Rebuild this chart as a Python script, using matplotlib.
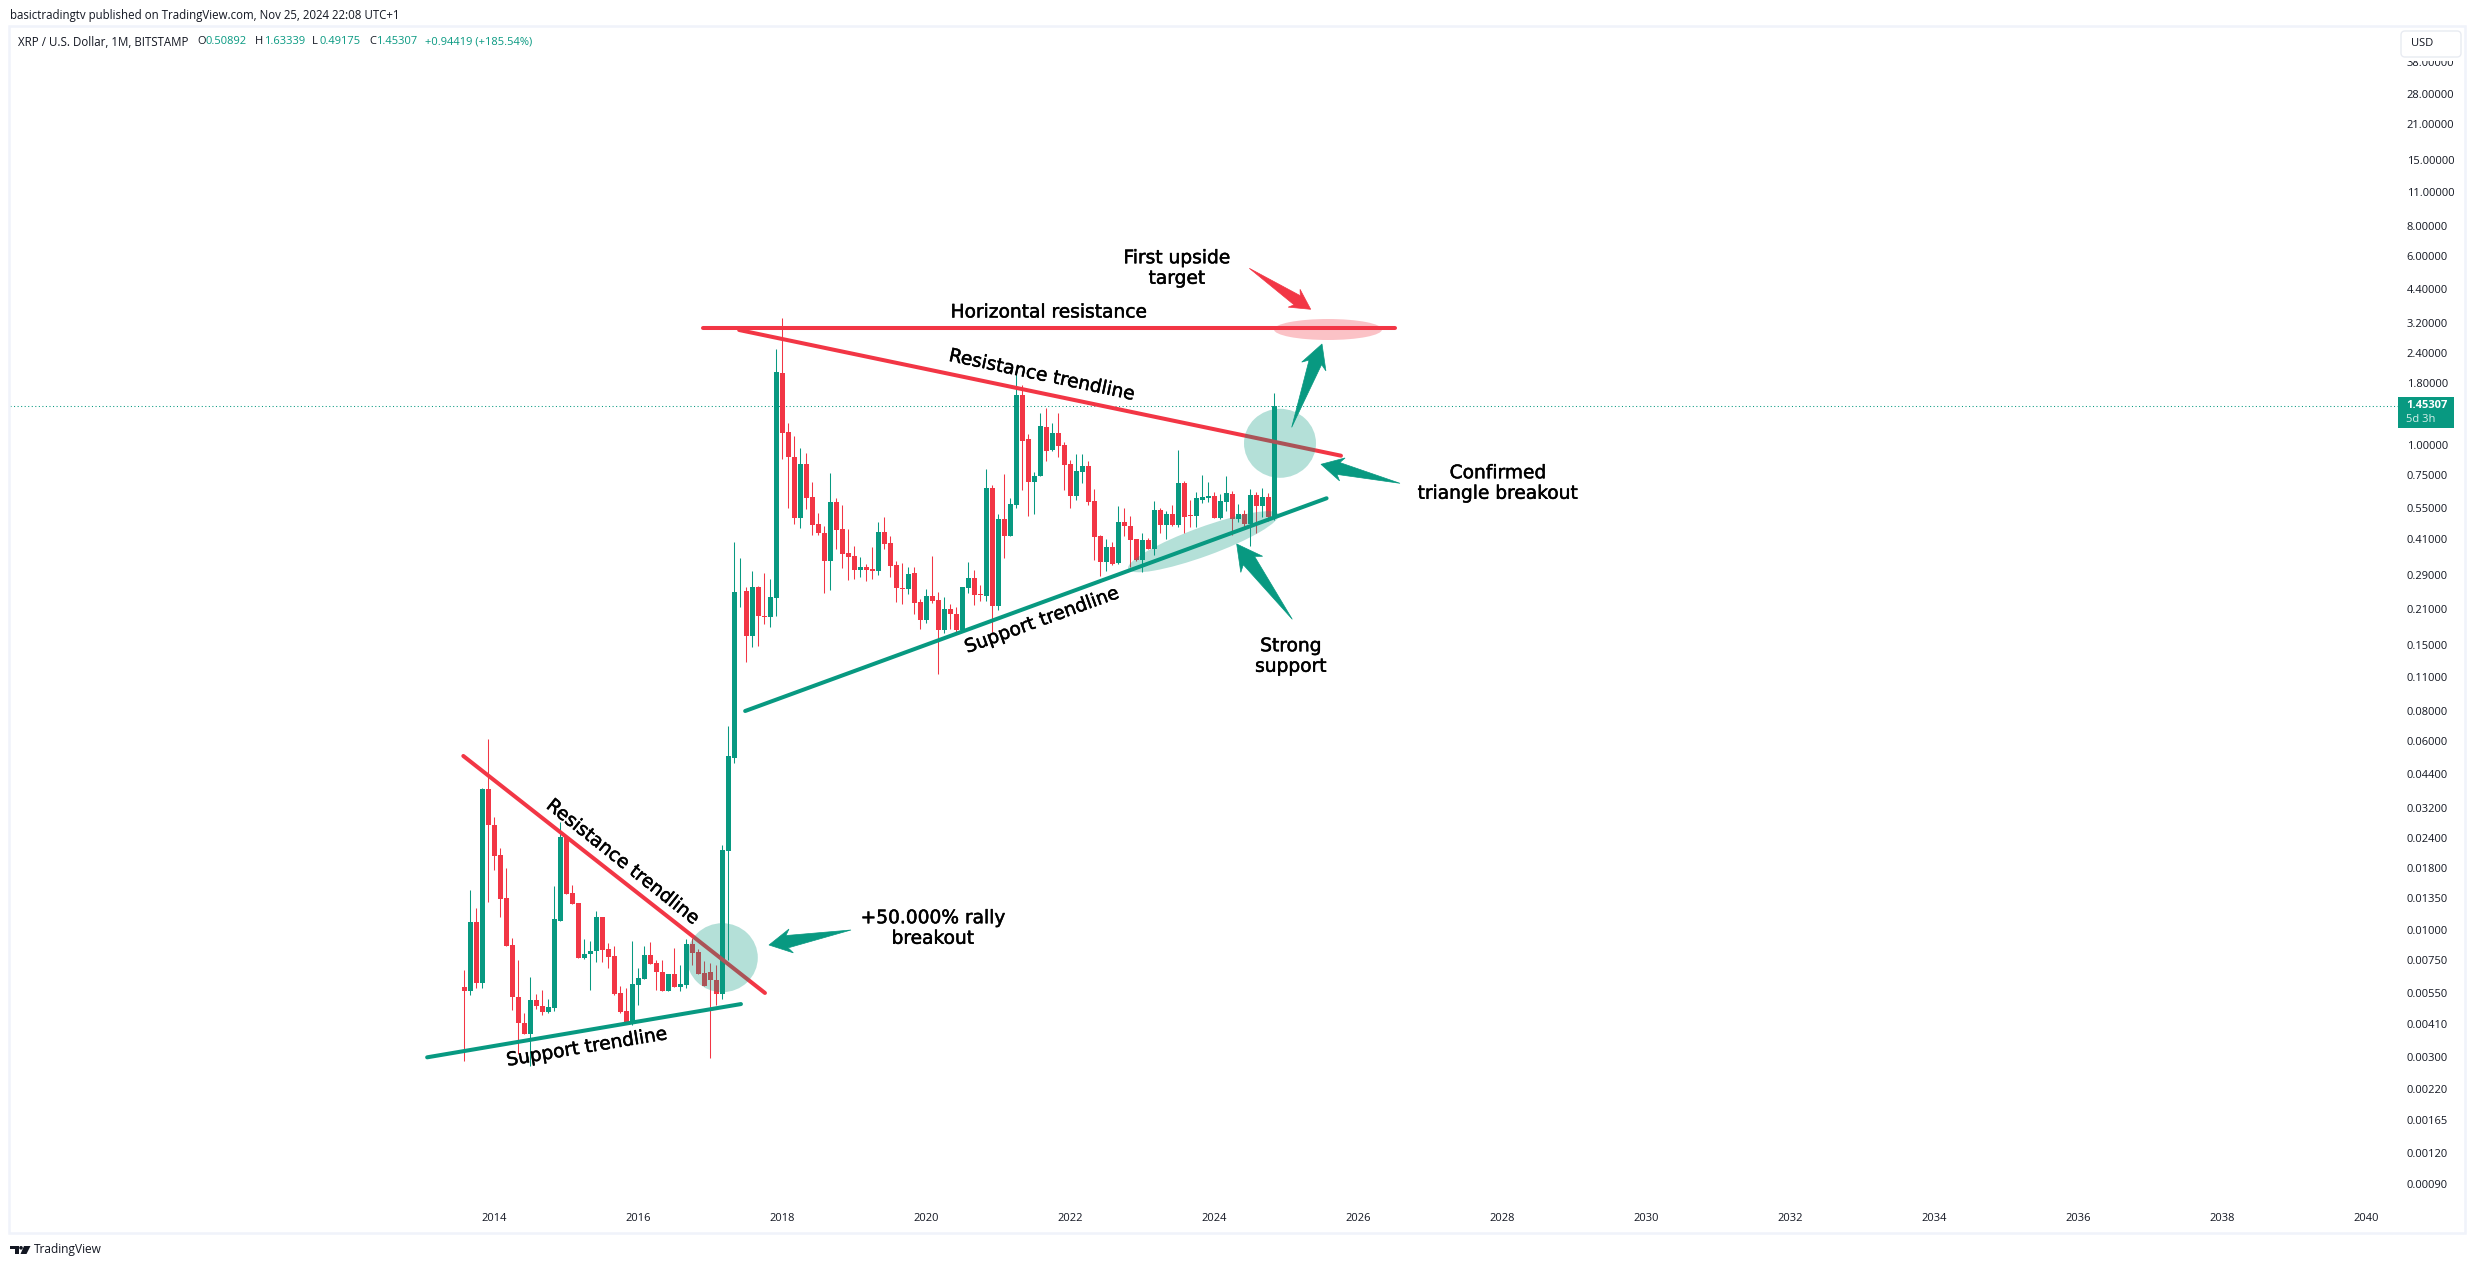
import numpy as np
import matplotlib
matplotlib.use("Agg")
import matplotlib.pyplot as plt
import matplotlib.patheffects as pe
from matplotlib.patches import Ellipse, Polygon, Rectangle, Circle, FancyBboxPatch

# monthly XRP candles, first one is Aug 2013
opens = [.00583, .00558, .0108, .00602, .0382, .0272, .0204, .0135, .00866, .0053,
         .00415, .00374, .00515, .00487, .00457, .00478, .0109, .0242, .01415, .0129,
         .0077, .00794, .00817, .01133, .00834, .0078, .0055, .00464, .00413, .00596,
         .0063, .0079, .0073, .00674, .0056, .00659, .00583, .00596, .00877, .00812,
         .00666, .00668, .00623, .00545, .0211, .0512, .2479, .249, .1623, .26,
         .1974, .1962, .235, 1.98, 1.131, .889, .5005, .8356, .6127, .4718,
         .434, .3329, .5826, .451, .3584, .3484, .3055, .3144, .3085, .3027,
         .4382, .3957, .3204, .2576, .255, .297, .2255, .1901, .2387, .2298,
         .1729, .211, .2013, .1729, .2576, .2832, .2425, .2387, .6654, .2171,
         .4957, .4195, .5662, 1.608, 1.056, .7042, .7455, 1.183, .9542, 1.12,
         1.0, .8353, .6165, .7741, .8196, .588, .4217, .3295, .38, .3255,
         .4817, .4636, .4099, .3359, .4061, .3728, .5398, .4682, .5197, .4682,
         .6975, .5152, .5116, .5936, .6049, .6165, .5002, .5823, .6283, .4955,
         .5197, .4727, .6224, .5607, .6107, .50892]
closes = [.00558, .0108, .00602, .03816, .0272, .02027, .01348, .00862, .00527, .00412,
          .00374, .00515, .00484, .00457, .0048, .0111, .0242, .01413, .01285, .0077,
          .00797, .00822, .01133, .00831, .00775, .00545, .00457, .00413, .006, .00635,
          .0079, .00726, .00668, .0056, .00659, .00583, .006, .00877, .00807, .00661,
          .00588, .00623, .00545, .02139, .052, .2479, .2487, .1638, .26, .1981,
          .1962, .2364, 2.0, 1.124, .8926, .5005, .8356, .605, .4682, .434,
          .3329, .5826, .4466, .3556, .3456, .3055, .3144, .3055, .3027, .4382,
          .391, .3172, .2576, .256, .294, .2234, .1901, .2387, .2269, .1729,
          .211, .2013, .1729, .26, .2832, .241, .241, .6654, .2171, .4957,
          .4195, .5715, 1.608, 1.039, .7042, .7455, 1.198, .945, 1.12, .9912,
          .8274, .6165, .7815, .8196, .5823, .4178, .3295, .38, .3233, .4817,
          .4636, .4061, .3359, .4061, .3728, .5398, .4682, .5197, .4682, .6975,
          .5051, .5116, .6049, .6107, .6165, .5002, .588, .6344, .4955, .5197,
          .4727, .6224, .5607, .6107, .5051, 1.45307]
highs = [.00685, .01463, .01229, .0385, .0613, .02916, .02173, .01797, .00925, .00753,
         .00454, .00639, .00545, .00566, .00519, .0152, .0279, .0245, .01534, .0129,
         .00919, .00905, .01199, .01133, .00886, .0086, .00588, .00579, .00902, .00696,
         .0086, .00889, .00753, .0075, .00659, .00843, .00716, .00919, .00925, .00838,
         .00746, .0073, .00718, .02243, .0694, .397, .3423, .2592, .3014, .2625,
         .296, .2805, 2.48, 3.34, 1.229, 1.09, .9695, .9245, .7042, .5268,
         .4638, .7672, .6032, .5662, .451, .3837, .3456, .3224, .38, .4817,
         .5052, .4219, .3329, .3264, .3144, .3144, .2318, .255, .3484, .2479,
         .2364, .2213, .215, .26, .3296, .3055, .2649, .7968, .6844, .5199,
         .7598, .605, 1.963, 1.768, 1.111, .7744, 1.356, 1.424, 1.233, 1.356,
         1.029, .8677, .9184, .9184, .8595, .659, .4258, .4099, .3984, .5607,
         .5513, .5116, .4099, .434, .4138, .588, .5513, .5347, .5661, .9539,
         .7106, .5936, .6403, .7525, .7039, .6403, .6283, .7454, .6465, .5714,
         .5398, .659, .6403, .6665, .6344, 1.63339]
lows = [.00287, .0054, .00579, .00579, .0131, .01769, .01136, .00862, .00468, .00309,
        .00374, .00274, .00474, .00448, .00454, .00464, .01085, .01413, .01285, .0077,
        .00757, .00566, .00739, .00739, .007, .00538, .00454, .00409, .00404, .00491,
        .0063, .00726, .00566, .00558, .0056, .00583, .00562, .00579, .00718, .00661,
        .00588, .00298, .00491, .00519, .0075, .0487, .215, .128, .1467, .149,
        .183, .1784, .1981, .8788, .5495, .4743, .4568, .5451, .4273, .4259,
        .2464, .2535, .374, .3114, .2787, .2805, .2859, .2743, .2805, .2912,
        .3729, .2859, .2255, .2213, .2433, .2013, .1746, .1848, .2234, .1139,
        .168, .1746, .1696, .1729, .2449, .2192, .2278, .2278, .1696, .209,
        .3423, .4195, .5512, .6528, .5101, .5199, .7455, .86, .945, .8929,
        .6526, .5513, .5936, .6996, .5661, .3359, .2885, .3025, .3203, .3233,
        .4217, .3142, .3336, .2997, .3728, .3521, .434, .4099, .4636, .4594,
        .434, .4594, .4594, .5768, .5823, .5002, .4955, .5347, .4258, .4817,
        .4594, .3836, .434, .5051, .4865, .49175]

price_ticks = [38, 28, 21, 15, 11, 8, 6, 4.4, 3.2, 2.4, 1.8, 1.0, .75, .55, .41, .29, .21, .15,
               .11, .08, .06, .044, .032, .024, .018, .0135, .01, .0075, .0055, .0041, .003,
               .0022, .00165, .0012, .0009]
year_ticks = [2014, 2016, 2018, 2020, 2022, 2024, 2026, 2028, 2030, 2032, 2034, 2036, 2038, 2040]
last_price = 1.45307

# trendlines as (month index, price) pairs
res_low_x, res_low_y = [-0.17, 50.1], [.0522, .0055]
sup_low_x, sup_low_y = [-6.2, 46.1], [.002985, .00495]
res_up_x, res_up_y = [45.8, 146.1], [2.98, .9034]
sup_up_x, sup_up_y = [46.8, 143.7], [.08, .603]
hor_x, hor_y = [39.8, 155.1], [3.05, 3.05]

GREEN = "#089981"
RED = "#F23645"
TEXT = "#131722"
W, H = 2475, 1268

plt.rcParams["font.family"] = ["Open Sans", "DejaVu Sans"]
fig = plt.figure(figsize=(W / 100, H / 100), dpi=100, facecolor="white")

# main chart, 10..2400 px wide and 27..1205 px down
ax = fig.add_axes([10 / W, (H - 1205) / H, (2400 - 10) / W, (1205 - 27) / H])
ax.set_yscale("log")
ax.set_xlim(-75.72, 322.6)
ax.set_ylim(10 ** -3.134, 10 ** 1.7237)
for s in ax.spines.values():
    s.set_visible(False)

months = np.arange(len(closes))
colors = [GREEN if c >= o else RED for o, c in zip(opens, closes)]
bottoms = np.minimum(opens, closes)
heights = np.abs(np.array(closes) - np.array(opens))
ax.vlines(months, lows, highs, colors=colors, linewidth=0.75, zorder=2, snap=True)
ax.bar(months, heights, bottom=bottoms, width=5 / 6, color=colors, linewidth=0, zorder=3)

ax.axhline(last_price, color=GREEN, linewidth=0.75, linestyle=(0, (1, 2.4)), zorder=1)

LW = 2.9
ax.plot(res_low_x, res_low_y, color=RED, lw=LW, solid_capstyle="round", zorder=4)
ax.plot(res_up_x, res_up_y, color=RED, lw=LW, solid_capstyle="round", zorder=4)
ax.plot(hor_x, hor_y, color=RED, lw=LW, solid_capstyle="round", zorder=4)
ax.plot(sup_low_x, sup_low_y, color=GREEN, lw=LW, solid_capstyle="round", zorder=4)
ax.plot(sup_up_x, sup_up_y, color=GREEN, lw=LW, solid_capstyle="round", zorder=4)

ax.yaxis.tick_right()
ax.set_yticks(price_ticks)
ax.set_yticklabels(["%.5f" % p for p in price_ticks], fontsize=8, color=TEXT)
ax.minorticks_off()
ax.set_xticks([5 + (y - 2014) * 12 for y in year_ticks])
ax.set_xticklabels([str(y) for y in year_ticks], fontsize=8, color=TEXT)
ax.tick_params(axis="y", length=0, pad=4.8)
ax.tick_params(axis="x", length=0, pad=5.5)

# drawings on top of the chart, in pixels of the picture
ov = fig.add_axes([0, 0, 1, 1], zorder=10)
ov.set_xlim(0, W)
ov.set_ylim(H, 0)
ov.axis("off")
ov.patch.set_alpha(0)


def arrow(tail, tip, color):
    tail = np.array(tail, dtype=float)
    tip = np.array(tip, dtype=float)
    along = tail - tip
    side = np.array([-along[1], along[0]])
    pts = [tip,
           tip + 0.27 * along + 0.145 * side,
           tip + 0.22 * along + 0.075 * side,
           tail,
           tip + 0.22 * along - 0.075 * side,
           tip + 0.27 * along - 0.145 * side]
    ov.add_patch(Polygon(pts, closed=True, facecolor=color, edgecolor=color, linewidth=0.5))


ov.add_patch(Ellipse((722.3, 957.7), 71, 69, facecolor=GREEN, alpha=0.3, linewidth=0))
ov.add_patch(Ellipse((1280, 443.3), 72, 69, facecolor=GREEN, alpha=0.3, linewidth=0))
ov.add_patch(Ellipse((1203.3, 541.7), 160, 29, angle=-20, facecolor=GREEN, alpha=0.3, linewidth=0))
ov.add_patch(Ellipse((1328, 329.5), 108, 21, facecolor=RED, alpha=0.3, linewidth=0))

arrow((851, 930), (769, 945), GREEN)
arrow((1291.7, 427.3), (1322, 344), GREEN)
arrow((1400, 483.3), (1321, 464.3), GREEN)
arrow((1292.3, 619.3), (1236.7, 544), GREEN)
arrow((1249.3, 268.3), (1310.7, 309.3), RED)

NOTE = 13.4
notes = [
    ("First upside\ntarget", 1177, 268, 0),
    ("Horizontal resistance", 1049, 312, 0),
    ("Resistance trendline", 1042, 375, -12),
    ("Confirmed\ntriangle breakout", 1498, 483, 0),
    ("Strong\nsupport", 1291, 656, 0),
    ("Support trendline", 1042, 620, 20),
    ("+50.000% rally\nbreakout", 933, 928, 0),
    ("Resistance trendline", 623, 862, -38.5),
    ("Support trendline", 587, 1047, 9.5),
]
for txt, x, y, rot in notes:
    t = ov.text(x, y, txt, fontsize=NOTE, family="DejaVu Sans", color="black", ha="center", va="center",
                rotation=rot, rotation_mode="anchor", linespacing=1.1, multialignment="center")
    t.set_path_effects([pe.withStroke(linewidth=0.35, foreground="black")])

# frame around the chart
ov.add_patch(Rectangle((9, 26), 2456, 1206.5, fill=False, edgecolor="#F0F3FA", linewidth=1.8))

# header
ov.text(10, 15, "basictradingtv published on TradingView.com, Nov 25, 2024 22:08 UTC+1",
        fontsize=8.3, color=TEXT, va="center")
ov.text(18, 42, "XRP / U.S. Dollar, 1M, BITSTAMP", fontsize=8.3, color=TEXT, va="center")
for x, label, val, val_x in [(197, "O", "0.50892", 206), (255, "H", "1.63339", 264),
                             (312, "L", "0.49175", 319), (369, "C", "1.45307", 376)]:
    ov.text(x, 42, label, fontsize=8, color=TEXT, va="center")
    ov.text(val_x, 42, val, fontsize=8, color=GREEN, va="center")
ov.text(425, 42, "+0.94419 (+185.54%)", fontsize=8, color=GREEN, va="center")

# currency button and price tag on the price scale, the button hides the top label partly
ov.add_patch(Rectangle((2400, 28), 64, 33, facecolor="white", linewidth=0))
ov.add_patch(FancyBboxPatch((2403, 33), 56, 22, boxstyle="round,pad=2,rounding_size=4",
                            facecolor="white", edgecolor="#E8EBF2", linewidth=1))
ov.text(2411, 44, "USD", fontsize=8, color=TEXT, va="center")
ov.add_patch(Rectangle((2398, 397), 56, 31, facecolor=GREEN, linewidth=0))
ov.text(2406, 405.5, "1.45307", fontsize=8, color="white", weight="bold", va="center")
ov.text(2406, 420, "5d 3h", fontsize=8, color="#D5EFEA", va="center")

# TradingView logo
ov.add_patch(Rectangle((10, 1246), 8.5, 3.2, facecolor=TEXT, linewidth=0))
ov.add_patch(Rectangle((14.5, 1246), 4, 8, facecolor=TEXT, linewidth=0))
ov.add_patch(Circle((21, 1247.8), 1.8, facecolor=TEXT, linewidth=0))
ov.add_patch(Polygon([(24, 1246), (30.5, 1246), (26.5, 1254), (20.5, 1254)], facecolor=TEXT, linewidth=0))
ov.text(34, 1250, "TradingView", fontsize=8.6, color=TEXT, va="center")

fig.savefig("out.png", dpi=100)
